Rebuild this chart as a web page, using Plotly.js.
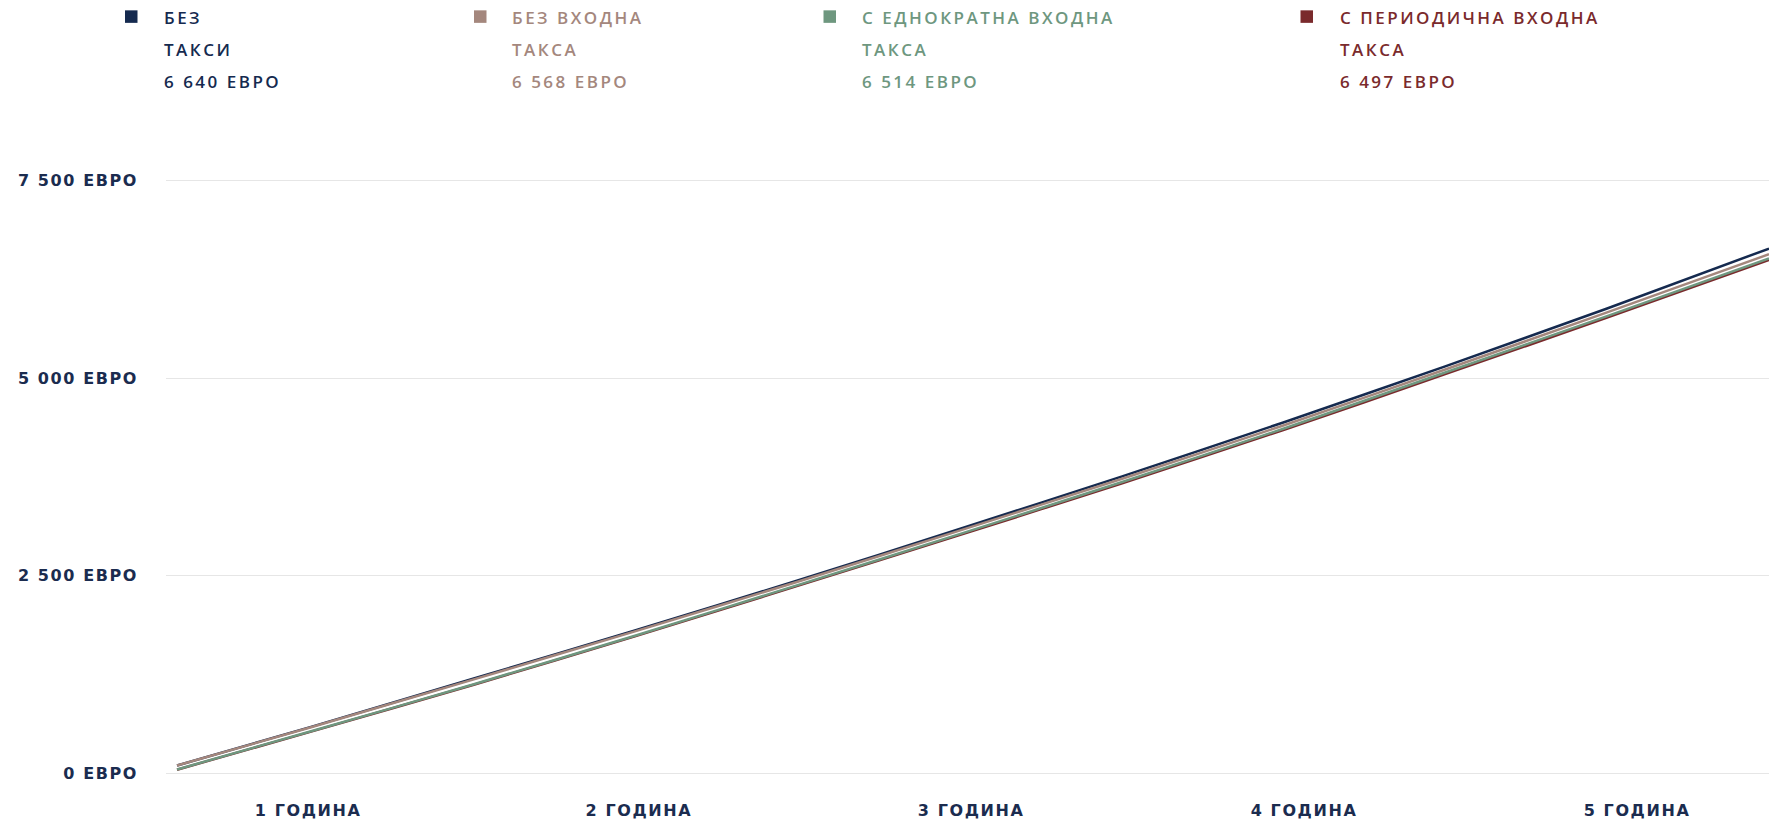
<!DOCTYPE html>
<html>
<head>
<meta charset="utf-8">
<script src="https://cdn.plot.ly/plotly-3.0.1.min.js"></script>
<style>
  html, body { margin: 0; padding: 0; background: #ffffff; }
  #chart { width: 1769px; height: 822px; }
  .xtick text, .ytick text { letter-spacing: 1.6px; }
  .annotation-text { letter-spacing: 2.5px; }
</style>
</head>
<body>
<div id="chart"></div>
<script>
// ---- data ----
const months = [1, 6, 12, 18, 24, 30, 36, 42, 48, 54, 60];
const noFees       = [100, 592, 1200, 1812, 2440, 3092, 3755, 4440, 5150, 5882, 6640];
const noEntryFee   = [100, 588, 1190, 1800, 2425, 3072, 3725, 4402, 5110, 5832, 6568];
const oneOffFee    = [50, 536, 1128, 1745, 2382, 3027, 3683, 4360, 5072, 5785, 6514];
const periodicFee  = [47, 532, 1122, 1737, 2372, 3014, 3668, 4344, 5051, 5766, 6497];

const seriesNames = [
  ["БЕЗ", "ТАКСИ", "6 640 ЕВРО"],
  ["БЕЗ ВХОДНА", "ТАКСА", "6 568 ЕВРО"],
  ["С ЕДНОКРАТНА ВХОДНА", "ТАКСА", "6 514 ЕВРО"],
  ["С ПЕРИОДИЧНА ВХОДНА", "ТАКСА", "6 497 ЕВРО"]
];
const seriesColors = ["#152a4f", "#a4877d", "#6e977f", "#7a2a2c"];

const yTickValues = [0, 2500, 5000, 7500];
const yTickLabels = ["0 ЕВРО", "2 500 ЕВРО", "5 000 ЕВРО", "7 500 ЕВРО"];
const xTickLabels = ["1 ГОДИНА", "2 ГОДИНА", "3 ГОДИНА", "4 ГОДИНА", "5 ГОДИНА"];

// ---- layout geometry (pixels) ----
const W = 1769, H = 822;
const yMin = -20, yMax = 7520;
const pxPerUnit = 592 / 7500;
const L = 166, R = 0;
const T = 181 - (yMax - 7500) * pxPerUnit;
const B = H - 773 - (0 - yMin) * pxPerUnit;
const plotW = W - L - R, plotH = H - T - B;
const px2x = px => (px - L) / plotW;
const px2y = py => (H - B - py) / plotH;

const xTickPos = [5.86, 18.12, 30.43, 42.77, 55.11];

function lineTrace(y, color) {
  return {
    x: months, y: y, type: "scatter", mode: "lines",
    line: { color: color, width: 2.5, shape: "spline", smoothing: 0.6 },
    hoverinfo: "skip", showlegend: false
  };
}

// draw order: navy, brown, red, green
const traces = [
  lineTrace(noFees, seriesColors[0]),
  lineTrace(noEntryFee, seriesColors[1]),
  lineTrace(periodicFee, seriesColors[3]),
  lineTrace(oneOffFee, seriesColors[2])
];

// custom legend
const squareX = [125, 474, 823.5, 1300.5];
const textX = [162, 510, 860, 1338];
const lineY = [18, 50.5, 82];
const annotations = [];
const shapes = [];
seriesNames.forEach((lines, i) => {
  shapes.push({
    type: "rect", xref: "paper", yref: "paper",
    x0: px2x(squareX[i]), x1: px2x(squareX[i] + 12.5),
    y0: px2y(23.5), y1: px2y(11),
    fillcolor: seriesColors[i], line: { width: 0 }
  });
  lines.forEach((t, j) => {
    annotations.push({
      xref: "paper", yref: "paper",
      x: px2x(textX[i]), y: px2y(lineY[j]),
      xanchor: "left", yanchor: "middle",
      text: t, showarrow: false,
      font: { family: "Open Sans, sans-serif", size: 17, weight: 600, color: seriesColors[i] }
    });
  });
});

const tickFont = { family: "DejaVu Sans, sans-serif", size: 16, weight: 700, color: "#1b2c4f" };

const layout = {
  width: W, height: H,
  margin: { l: L, r: R, t: T, b: B, pad: 0 },
  paper_bgcolor: "#ffffff", plot_bgcolor: "#ffffff",
  showlegend: false,
  xaxis: {
    type: "linear",
    range: [0.592, 60],
    tickmode: "array", tickvals: xTickPos, ticktext: xTickLabels,
    showgrid: false, zeroline: false, showline: false,
    ticks: "", ticklabelstandoff: 24,
    tickfont: tickFont,
    fixedrange: true
  },
  yaxis: {
    range: [yMin, yMax],
    tickmode: "array", tickvals: yTickValues, ticktext: yTickLabels,
    showgrid: true, gridcolor: "#e6e6e6", gridwidth: 1,
    zeroline: false, showline: false,
    ticks: "", ticklabelstandoff: 27,
    tickfont: tickFont,
    fixedrange: true
  },
  annotations: annotations,
  shapes: shapes
};

Plotly.newPlot("chart", traces, layout, { displayModeBar: false, staticPlot: true });
</script>
</body>
</html>
